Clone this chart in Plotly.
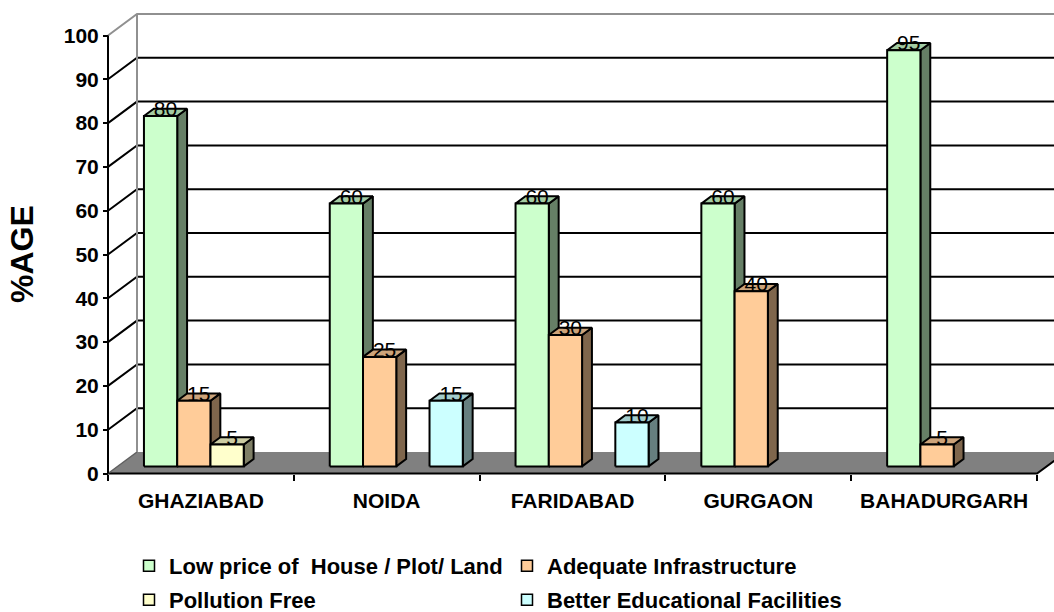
import plotly.graph_objects as go

# ---------------- data ----------------
categories = ["GHAZIABAD", "NOIDA", "FARIDABAD", "GURGAON", "BAHADURGARH"]
series_names = [
    "Low price of  House / Plot/ Land",
    "Adequate Infrastructure",
    "Pollution Free",
    "Better Educational Facilities",
]
low_price = [80, 60, 60, 60, 95]
infrastructure = [15, 25, 30, 40, 5]
pollution_free = [5, None, None, None, None]
education = [None, 15, 10, None, None]
y_ticks = [0, 10, 20, 30, 40, 50, 60, 70, 80, 90, 100]
y_title = "%AGE"

series_values = [low_price, infrastructure, pollution_free, education]
front_colors = ["#CCFFCC", "#FFCC99", "#FFFFCC", "#CCFFFF"]

# ---------------- geometry / style ----------------
W, H = 1054, 612
X0_PX, CAT_PX = 108.0, 185.8        # front-plane origin and px per category
Y0_PX, UNIT_PX = 473.5, 4.38        # front-plane zero and px per value unit
DX = 29.0 / CAT_PX                  # full depth offset (x, category units)
DY = 21.5 / UNIT_PX                 # full depth offset (y, value units)
D0, D1 = 0.33, 0.67                 # bar depth span
PAD, BW = 0.142, 0.179              # group padding and bar width (category units)
LABEL_D = 0.57                      # depth level of data-label centres
FONT = "Liberation Sans"

# plot area = whole figure (no margins), so axis ranges map pixels directly
x_range = [(0 - X0_PX) / CAT_PX, (W - X0_PX) / CAT_PX]
y_range = [(Y0_PX - H) / UNIT_PX, Y0_PX / UNIT_PX]
XMAX = x_range[1] + 0.5
YMAX = max(y_ticks)
NCAT = len(categories)


def px_x(px):
    return px / W


def px_y(py):
    return (H - py) / H


def shade(hx, k):
    hx = hx.lstrip("#")
    r, g, b = (int(hx[i:i + 2], 16) for i in (0, 2, 4))
    return "#%02X%02X%02X" % (int(r * k), int(g * k), int(b * k))


def P(x, v, d):
    return x + d * DX, v + d * DY


def poly_trace(polys, color, lw=2, lcolor="black"):
    xs, ys = [], []
    for pts in polys:
        for (x, y) in pts + [pts[0]]:
            xs.append(x)
            ys.append(y)
        xs.append(None)
        ys.append(None)
    return go.Scatter(x=xs, y=ys, mode="lines", fill="toself", fillcolor=color,
                      line=dict(color=lcolor, width=lw), showlegend=False,
                      hoverinfo="skip")


def line_trace(segs, color, lw):
    xs, ys = [], []
    for seg in segs:
        for (x, y) in seg:
            xs.append(x)
            ys.append(y)
        xs.append(None)
        ys.append(None)
    return go.Scatter(x=xs, y=ys, mode="lines", line=dict(color=color, width=lw),
                      showlegend=False, hoverinfo="skip")


fig = go.Figure()

# gridlines: side-wall diagonals + back-wall horizontals
grid = []
for v in y_ticks[1:-1]:
    grid.append([P(0, v, 0), P(0, v, 1), (XMAX, v + DY)])
fig.add_trace(line_trace(grid, "black", 2))

# floor
floor = [P(0, 0, 0), P(NCAT, 0, 0), P(NCAT, 0, 1), (XMAX, DY), P(0, 0, 1)]
fig.add_trace(poly_trace([floor], "#808080", lw=0, lcolor="#808080"))
fig.add_trace(line_trace([[P(0, 0, 0), P(NCAT, 0, 0), P(NCAT, 0, 1)]], "black", 2))
fig.add_trace(line_trace([[P(0, 0, 0), P(0, 0, 1)]], "#606060", 1.5))

# wall borders (gray)
fig.add_trace(line_trace([[P(0, YMAX, 0), P(0, YMAX, 1), (XMAX, YMAX + DY)],
                          [P(0, 0, 1), P(0, YMAX, 1)]], "#909090", 2))

# front y-axis line
fig.add_trace(line_trace([[P(0, 0, 0), P(0, YMAX, 0)]], "black", 2))

# bars (left to right so right neighbours hide side faces)
label_x, label_y, label_t = [], [], []
for i, vals in enumerate(series_values):
    sides, tops, fronts = [], [], []
    for j, v in enumerate(vals):
        if v is None:
            continue
        x0 = j + PAD + i * BW
        x1 = x0 + BW
        fronts.append([P(x0, 0, D0), P(x1, 0, D0), P(x1, v, D0), P(x0, v, D0)])
        sides.append([P(x1, 0, D0), P(x1, 0, D1), P(x1, v, D1), P(x1, v, D0)])
        tops.append([P(x0, v, D0), P(x1, v, D0), P(x1, v, D1), P(x0, v, D1)])
        lx, _ = P(x0 + BW / 2, v, (D0 + D1) / 2)
        label_x.append(lx)
        label_y.append(v + LABEL_D * DY)
        label_t.append(str(v))
    fig.add_trace(poly_trace(sides, shade(front_colors[i], 0.5)))
    fig.add_trace(poly_trace(tops, shade(front_colors[i], 0.8)))
    fig.add_trace(poly_trace(fronts, front_colors[i]))

# data labels
fig.add_trace(go.Scatter(x=label_x, y=label_y, text=label_t, mode="text",
                         textposition="middle center", cliponaxis=False,
                         textfont=dict(family=FONT, size=21, color="black"),
                         showlegend=False, hoverinfo="skip"))

# legend entries
for i, name in enumerate(series_names):
    fig.add_trace(go.Scatter(
        x=[None], y=[None], mode="markers", name=name,
        marker=dict(symbol="square", size=11, color=front_colors[i],
                    line=dict(color="black", width=1.5)),
        legend="legend" if i < 2 else "legend2"))

leg_common = dict(orientation="h", xanchor="left", yanchor="middle",
                  entrywidth=333, entrywidthmode="pixels",
                  bgcolor="rgba(0,0,0,0)",
                  font=dict(family=FONT, size=22, color="black", weight="bold"))

fig.update_layout(
    width=W, height=H,
    margin=dict(l=0, r=0, t=0, b=0, pad=0, autoexpand=False),
    paper_bgcolor="white", plot_bgcolor="white",
    xaxis=dict(range=x_range, anchor="free", position=px_y(Y0_PX),
               tickvals=[j + 0.5 for j in range(NCAT)], ticktext=categories,
               ticks="", showgrid=False, zeroline=False, showline=False,
               ticklabelstandoff=12,
               minor=dict(tickmode="array", tickvals=list(range(NCAT + 1)),
                          ticks="outside", ticklen=6, tickwidth=2,
                          tickcolor="black", showgrid=False),
               tickfont=dict(family=FONT, size=21, color="black", weight="bold")),
    yaxis=dict(range=y_range, anchor="free", position=px_x(X0_PX),
               tickvals=y_ticks, ticks="outside", ticklen=5, tickwidth=2,
               tickcolor="black", showgrid=False, zeroline=False, showline=False,
               tickfont=dict(family=FONT, size=21, color="black", weight="bold")),
    legend=dict(x=px_x(129), y=px_y(566), **leg_common),
    legend2=dict(x=px_x(129), y=px_y(600), **leg_common),
    annotations=[dict(text=y_title, xref="paper", yref="paper",
                      x=px_x(22), y=px_y(254),
                      xanchor="center", yanchor="middle", textangle=-90,
                      showarrow=False,
                      font=dict(family=FONT, size=32, color="black", weight="bold"))],
)

fig.write_html(
    "out.html",
    config={"displayModeBar": False},
    post_script="document.body.style.margin='0px';"
                "document.body.style.padding='0px';"
                "document.body.style.overflow='hidden';",
)
